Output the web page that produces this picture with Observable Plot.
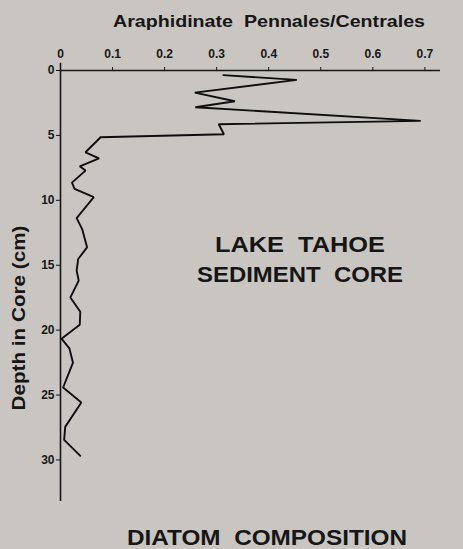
<!DOCTYPE html>
<html><head><meta charset="utf-8">
<script src="https://cdn.jsdelivr.net/npm/d3@7"></script>
<script src="https://cdn.jsdelivr.net/npm/@observablehq/plot@0.6"></script>
<style>
html,body{margin:0;padding:0;background:#c9c6c2;}
#wrap{width:463px;height:549px;overflow:hidden;}
</style></head><body><div id="wrap"></div>
<script>
// Araphidinate Pennales / Centrales ratio vs depth in core (cm)
const depth = [0.36, 0.72, 1.70, 2.37, 2.83, 3.88, 4.14, 4.91, 5.14, 6.30, 6.76, 7.38, 7.71, 8.64, 9.12, 9.75,
  11.37, 12.26, 13.62, 14.52, 15.42, 16.19, 17.48, 18.58, 19.58, 20.66, 21.40, 22.51, 24.42, 25.57, 27.45, 28.45, 29.68];
const ratio = [0.313, 0.454, 0.258, 0.335, 0.259, 0.692, 0.304, 0.314, 0.077, 0.048, 0.074, 0.037, 0.048, 0.022, 0.027, 0.064,
  0.031, 0.042, 0.051, 0.034, 0.031, 0.035, 0.019, 0.038, 0.037, 0.002, 0.017, 0.024, 0.005, 0.040, 0.009, 0.007, 0.038];
const xTicks = [0, 0.1, 0.2, 0.3, 0.4, 0.5, 0.6, 0.7];
const xTickLabels = ["0", "0.1", "0.2", "0.3", "0.4", "0.5", "0.6", "0.7"];
const yTicks = [0, 5, 10, 15, 20, 25, 30];
const titleText = "Araphidinate  Pennales/Centrales";
const yLabelText = "Depth in Core (cm)";
const annotationLines = ["LAKE  TAHOE", "SEDIMENT  CORE"];
const captionText = "DIATOM  COMPOSITION";

const ink = "#161616";
const font = "'Liberation Sans', Arial, sans-serif";
const data = depth.map((d, i) => ({depth: d, ratio: ratio[i]}));

const chart = Plot.plot({
  width: 463, height: 549,
  marginTop: 70, marginLeft: 60, marginRight: 23, marginBottom: 48,
  x: {domain: [0, 0.73]},
  y: {domain: [0, 33.2], reverse: true},
  style: {background: "transparent", fontFamily: font, fontSize: "12px", fontWeight: "bold", color: ink},
  marks: [
    Plot.ruleY([0], {stroke: ink, strokeWidth: 1.6}),
    Plot.ruleX([0], {y1: -0.55, y2: 33.2, stroke: ink, strokeWidth: 1.6}),
    Plot.axisX({anchor: "top", ticks: xTicks, tickFormat: (d, i) => xTickLabels[i], tickSize: 4, tickPadding: 9, label: null, stroke: ink}),
    Plot.axisY({anchor: "left", ticks: yTicks, tickSize: 4, tickPadding: 2, label: null, stroke: ink}),
    Plot.line(data, {x: "ratio", y: "depth", stroke: "#0e0e0e", strokeWidth: 1.9, strokeLinejoin: "miter"})
  ]
});
document.getElementById("wrap").appendChild(chart);

const svg = d3.select(chart);
function addText(str, x, y, size, len, rotate) {
  const t = svg.append("text")
    .attr("text-anchor", "middle")
    .attr("font-family", font)
    .attr("font-weight", "bold")
    .attr("font-size", size)
    .attr("fill", ink)
    .attr("textLength", len)
    .attr("lengthAdjust", "spacingAndGlyphs")
    .text(str);
  if (rotate) t.attr("transform", `translate(${x},${y}) rotate(-90)`);
  else t.attr("x", x).attr("y", y);
}
addText(titleText, 269, 26.5, 17, 312);
addText(yLabelText, 25, 318, 18, 185, true);
addText(annotationLines[0], 300, 251.5, 22, 170);
addText(annotationLines[1], 300, 281.5, 22, 206);
addText(captionText, 267, 545, 22, 280);
</script></body></html>
